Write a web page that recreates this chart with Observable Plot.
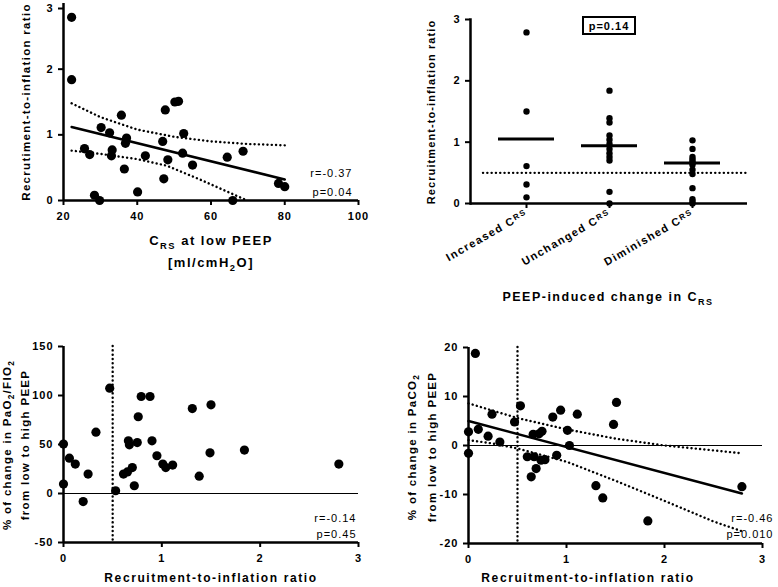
<!DOCTYPE html>
<html><head><meta charset="utf-8">
<script src="https://cdn.jsdelivr.net/npm/d3@7"></script>
<script src="https://cdn.jsdelivr.net/npm/@observablehq/plot@0.6"></script>
<style>
body{margin:0;background:#fff;}
#wrap{position:relative;width:778px;height:587px;overflow:hidden;background:#fff;}
#wrap svg{position:absolute;overflow:visible;}
</style></head><body><div id="wrap"></div>
<script>
// ---------- Panel A: C_RS at low PEEP vs recruitment-to-inflation ratio ----------
const crsLowPeep = [22.2,22.2,25.7,27.1,28.4,29.8,30.2,32.5,33.2,33.0,35.7,37.1,36.8,36.5,40.1,42.2,46.9,47.6,47.2,48.3,50.2,51.2,52.6,52.3,55.0,64.4,68.7,65.9,78.3,80.0];
const riA = [2.79,1.84,0.79,0.70,0.08,0.0,1.11,1.03,0.77,0.68,1.30,0.95,0.87,0.48,0.13,0.68,0.90,1.38,0.33,0.62,1.50,1.51,1.02,0.72,0.54,0.66,0.75,0.0,0.26,0.21];
const fitAx = [22.2, 80], fitAy = [1.12, 0.32];
const ciUpAx = [22.2,30,40,50,60,70,80], ciUpAy = [1.48,1.27,1.08,0.97,0.90,0.86,0.84];
const ciLoAx = [22.2,30,40,48,57,65,69.8], ciLoAy = [0.76,0.71,0.63,0.53,0.32,0.12,0.0];
const xTicksA = [20,40,60,80,100];
const yTicksA = [0,1,2,3];
const statsA = "r=-0.37\np=0.04";

// ---------- Panel B: PEEP-induced change in C_RS ----------
const groups = ["Increased", "Unchanged", "Diminished"];
const increasedVals = [2.79,1.50,0.61,0.31,0.10];
const unchangedVals = [1.84,1.39,1.32,1.11,1.04,0.97,0.89,0.82,0.76,0.70,0.19,0.0];
const diminishedVals = [1.03,0.89,0.76,0.72,0.68,0.66,0.63,0.55,0.48,0.25,0.07,0.03,0.0];
const groupMeans = [1.05,0.94,0.66];
const cutoff = 0.5;
const pB = "p=0.14";
const yTicksB = [0,1,2,3];

// ---------- Panel C: % change PaO2/FIO2 ----------
const riC = [0,0,0.06,0.12,0.2,0.25,0.33,0.47,0.53,0.61,0.65,0.70,0.72,0.66,0.67,0.75,0.76,0.79,0.88,0.90,0.95,1.01,1.04,1.11,1.31,1.38,1.49,1.50,1.84,2.80];
const pfChange = [50.4,9.6,36,30,-8.2,19.8,62.6,107.5,2.8,19.8,22,26.5,7.9,53.8,49.7,52,78.3,99,99,53.8,38.5,30,26.5,29,86.7,17.7,41.5,90.5,44.3,30];
const xTicksC = [0,1,2,3];
const yTicksC = [-50,0,50,100,150];
const statsC = "r=-0.14\np=0.45";

// ---------- Panel D: % change PaCO2 ----------
const riD = [0,0,0.07,0.1,0.2,0.24,0.32,0.47,0.53,0.60,0.64,0.66,0.67,0.69,0.72,0.75,0.74,0.78,0.86,0.90,0.94,1.01,1.03,1.11,1.30,1.37,1.48,1.51,1.83,2.79];
const co2Change = [2.8,-1.6,18.8,3.3,1.9,6.4,0.7,4.8,8.1,-2.3,-6.4,2.3,-2.3,-4.7,2.4,2.9,-3.0,-2.9,5.8,-2.0,7.2,3.1,0.0,6.4,-8.2,-10.7,4.3,8.8,-15.4,-8.4];
const fitDx = [0, 2.79], fitDy = [5.0, -9.8];
const ciUpDx = [0,0.5,1,1.5,2,2.5,2.79], ciUpDy = [8.6,5.6,3.3,1.4,0.0,-1.0,-1.6];
const ciLoDx = [0,0.25,0.5,1,1.5,2,2.5,2.79], ciLoDy = [1.1,0.4,-0.6,-3.3,-7.2,-11.3,-15.5,-17.5];
const xTicksD = [0,1,2,3];
const yTicksD = [-20,-10,0,10,20];
const statsD = "r=-0.46\np=0.010";

// ---------- helpers ----------
const FONT = '"Liberation Sans", Arial, Helvetica, sans-serif';
const baseStyle = {fontFamily: FONT, fontSize: "11px", fontWeight: "bold", color: "#000", background: "none", overflow: "visible", letterSpacing: "1px"};
const fmt = d => String(d);
const wrap = document.getElementById("wrap");
function place(svg, left, top) {
  svg.style.position = "absolute"; svg.style.left = left + "px"; svg.style.top = top + "px";
  wrap.appendChild(svg); return d3.select(svg);
}
// markup: _{...} subscript, ^{...} superscript
function label(sel, {x, y, rotate = 0, text, size = 12, weight = "bold", anchor = "middle", spacing = 1.5}) {
  const t = sel.append("text").attr("transform", `translate(${x},${y}) rotate(${rotate})`)
    .attr("text-anchor", anchor).attr("font-size", size).attr("font-weight", weight)
    .attr("font-family", FONT).attr("fill", "#000").style("letter-spacing", spacing + "px");
  const re = /([_^])\{([^}]*)\}/g;
  let last = 0, m, shift = 0;
  const put = (s, dy, fs) => { const ts = t.append("tspan").text(s); if (dy) ts.attr("dy", dy); if (fs) ts.attr("font-size", fs); };
  while ((m = re.exec(text))) {
    if (m.index > last) { put(text.slice(last, m.index), -shift); shift = 0; }
    const d = m[1] === "_" ? size * 0.3 : -size * 0.3;
    put(m[2], d - shift, size * 0.72); shift = d;
    last = re.lastIndex;
  }
  if (last < text.length) put(text.slice(last), -shift);
  return t;
}
const dotted = {strokeDasharray: "0.1,4.2", strokeWidth: 2.4, strokeLinecap: "round"};

// ---------- Panel A ----------
{
  const svg = Plot.plot({
    width: 389, height: 300, marginLeft: 63, marginRight: 31, marginTop: 3, marginBottom: 100,
    x: {domain: [xTicksA[0], xTicksA[xTicksA.length - 1]]},
    y: {domain: [yTicksA[0], yTicksA[yTicksA.length - 1]]},
    style: baseStyle,
    marks: [
      Plot.axisX({ticks: xTicksA, tickSize: 5, tickPadding: 7, strokeWidth: 2, label: null, tickFormat: fmt}),
      Plot.axisY({ticks: yTicksA.slice(0, -1), tickSize: 5, tickPadding: 5, strokeWidth: 2, label: null, tickFormat: fmt}),
      Plot.axisY({ticks: yTicksA.slice(-1), tickSize: 5, tickPadding: 5, strokeWidth: 2, label: null, tickFormat: fmt, dy: 5}),
      Plot.line(d3.zip(ciUpAx, ciUpAy), dotted),
      Plot.line(d3.zip(ciLoAx, ciLoAy), dotted),
      Plot.line(d3.zip(fitAx, fitAy), {strokeWidth: 2.5}),
      Plot.dot(d3.zip(crsLowPeep, riA), {r: 4.6, fill: "#000"}),
      Plot.ruleX([xTicksA[0]], {strokeWidth: 2.5}),
      Plot.ruleY([yTicksA[0]], {strokeWidth: 2.5}),
      Plot.text([statsA], {frameAnchor: "bottom-right", textAnchor: "end", dx: -6, dy: -5, lineHeight: 1.7, fontWeight: "normal", fontSize: 11})
    ]
  });
  const s = place(svg, 0, 0);
  label(s, {x: 211, y: 245, text: "C_{RS} at low PEEP", size: 13});
  label(s, {x: 211, y: 267, text: "[ml/cmH_{2}O]", size: 13});
  label(s, {x: 30, y: 102, rotate: -90, text: "Recrutiment-to-inflation ratio", size: 11.5, spacing: 1.3});
}

// ---------- Panel B ----------
{
  const pts = groups.flatMap((g, i) => [increasedVals, unchangedVals, diminishedVals][i].map(v => ({g, v})));
  const means = groups.map((g, i) => ({g, m: groupMeans[i]}));
  const svg = Plot.plot({
    width: 389, height: 310, marginLeft: 81, marginRight: 31, marginTop: 19, marginBottom: 107,
    x: {type: "band", domain: groups, paddingInner: 0.33, paddingOuter: 0.32},
    y: {domain: [yTicksB[0], yTicksB[yTicksB.length - 1]]},
    style: baseStyle,
    marks: [
      Plot.axisX({tickRotate: -30, tickSize: 5, tickPadding: 4, strokeWidth: 2, label: null, tickFormat: d => d + " C"}),
      Plot.axisY({ticks: yTicksB, tickSize: 5, tickPadding: 5, strokeWidth: 2, label: null, tickFormat: fmt}),
      Plot.ruleY([cutoff], {...dotted, insetLeft: 13}),
      Plot.tickY(means, {x: "g", y: "m", strokeWidth: 3}),
      Plot.dot(pts, {x: "g", y: "v", r: 3.2, fill: "#000"}),
      Plot.frame({anchor: "left", strokeWidth: 2.5}),
      Plot.ruleY([yTicksB[0]], {strokeWidth: 2.5})
    ]
  });
  const s = place(svg, 389, 0);
  s.selectAll('g[aria-label="x-axis tick label"] text').each(function() {
    const t = d3.select(this);
    t.style("letter-spacing", "1.4px");
    t.append("tspan").attr("font-size", 8).attr("dy", "-0.3em").text("RS");
  });
  label(s, {x: 46, y: 112, rotate: -90, text: "Recruitment-to-inflation ratio", size: 11, spacing: 1.1});
  label(s, {x: 219, y: 301, text: "PEEP-induced change in C_{RS}", size: 12.5});
  label(s, {x: 220, y: 30, text: pB, size: 11, spacing: 1});
  s.append("rect").attr("x", 220 - 26).attr("y", 17).attr("width", 52).attr("height", 17)
    .attr("fill", "none").attr("stroke", "#000").attr("stroke-width", 2);
}

// ---------- Panel C ----------
{
  const svg = Plot.plot({
    width: 389, height: 257, marginLeft: 63, marginRight: 31, marginTop: 16, marginBottom: 45,
    x: {domain: [xTicksC[0], xTicksC[xTicksC.length - 1]]},
    y: {domain: [yTicksC[0], yTicksC[yTicksC.length - 1]]},
    style: baseStyle,
    marks: [
      Plot.axisX({ticks: xTicksC, tickSize: 5, tickPadding: 7, strokeWidth: 2, label: null, tickFormat: fmt}),
      Plot.axisY({ticks: yTicksC, tickSize: 5, tickPadding: 5, strokeWidth: 2, label: null, tickFormat: fmt}),
      Plot.ruleY([0], {strokeWidth: 1.2}),
      Plot.ruleX([cutoff], dotted),
      Plot.dot(d3.zip(riC, pfChange), {r: 4.6, fill: "#000"}),
      Plot.ruleX([xTicksC[0]], {strokeWidth: 2.5}),
      Plot.ruleY([yTicksC[0]], {strokeWidth: 2.5}),
      Plot.text([statsC], {frameAnchor: "bottom-right", textAnchor: "end", dx: -2, dy: -5, lineHeight: 1.45, fontWeight: "normal", fontSize: 11})
    ]
  });
  const s = place(svg, 0, 330);
  label(s, {x: 211, y: 252, text: "Recruitment-to-inflation ratio", size: 12, spacing: 1.6});
  label(s, {x: 11, y: 115, rotate: -90, text: "% of change in PaO_{2}/FIO_{2}", size: 11.5, spacing: 1.3});
  label(s, {x: 29, y: 115, rotate: -90, text: "from low to high PEEP", size: 11.5, spacing: 1.3});
}

// ---------- Panel D ----------
{
  const svg = Plot.plot({
    width: 389, height: 257, marginLeft: 79, marginRight: 16, marginTop: 17, marginBottom: 44,
    x: {domain: [xTicksD[0], xTicksD[xTicksD.length - 1]]},
    y: {domain: [yTicksD[0], yTicksD[yTicksD.length - 1]]},
    style: baseStyle,
    marks: [
      Plot.axisX({ticks: xTicksD, tickSize: 5, tickPadding: 7, strokeWidth: 2, label: null, tickFormat: fmt}),
      Plot.axisY({ticks: yTicksD, tickSize: 5, tickPadding: 5, strokeWidth: 2, label: null, tickFormat: fmt}),
      Plot.ruleY([0], {strokeWidth: 1.2}),
      Plot.ruleX([cutoff], dotted),
      Plot.line(d3.zip(ciUpDx, ciUpDy), dotted),
      Plot.line(d3.zip(ciLoDx, ciLoDy), dotted),
      Plot.line(d3.zip(fitDx, fitDy), {strokeWidth: 2.5}),
      Plot.dot(d3.zip(riD, co2Change), {r: 4.6, fill: "#000"}),
      Plot.ruleX([xTicksD[0]], {strokeWidth: 2.5}),
      Plot.ruleY([yTicksD[0]], {strokeWidth: 2.5}),
      Plot.text([statsD], {frameAnchor: "bottom-right", textAnchor: "end", dx: 11, dy: -6, lineHeight: 1.45, fontWeight: "normal", fontSize: 11})
    ]
  });
  const s = place(svg, 389, 330);
  label(s, {x: 199, y: 252, text: "Recruitment-to-inflation ratio", size: 12, spacing: 1.6});
  label(s, {x: 27, y: 117, rotate: -90, text: "% of change in PaCO_{2}", size: 11.5, spacing: 1.3});
  label(s, {x: 47, y: 117, rotate: -90, text: "from low to high PEEP", size: 11.5, spacing: 1.3});
}
</script></body></html>
